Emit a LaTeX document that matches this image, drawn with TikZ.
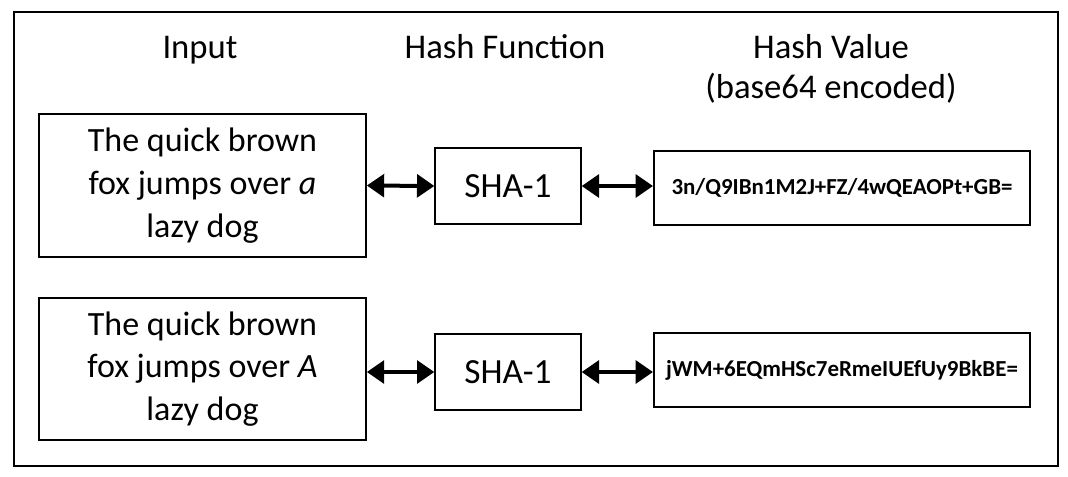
\documentclass[tikz,border=0pt]{standalone}
\usepackage{fontspec}
\setmainfont{Carlito}
\usetikzlibrary{arrows.meta}
\begin{document}
\begin{tikzpicture}[x=0.75pt,y=-0.75pt,
  box/.style={draw=black,line width=1.5pt,inner sep=0pt,align=center},
  title/.style={font=\fontsize{26}{30}\selectfont,align=center,inner sep=0pt,anchor=base},
  intext/.style={box,minimum width=245pt,minimum height=107pt,font=\fontsize{25.5}{32}\selectfont},
  fnbox/.style={box,minimum width=109pt,minimum height=57pt,font=\fontsize{26.5}{30}\selectfont},
  hashbox/.style={box,minimum width=282pt,minimum height=55pt,font=\bfseries\fontsize{17.2}{20}\selectfont},
  link/.style={line width=3pt,{Triangle[length=13pt,width=17pt]}-{Triangle[length=13pt,width=17pt]}}]
\useasboundingbox (0,0) rectangle (1068,476);
\draw[line width=1.6pt] (14,12) rectangle (1058,466);
\node[title] (t1) at (200,58) {Input};
\node[title] (t2) at (505,58) {Hash Function};
\node[title] (t3) at (831,58) {Hash Value};
\node[title] (t4) at (831,98) {(base64 encoded)};
\node[intext] (in1) at (202.5,185.5) {The quick brown\\fox jumps over \textit{a}\\lazy dog};
\node[intext] (in2) at (202.5,369) {The quick brown\\fox jumps over \textit{A}\\lazy dog};
\node[fnbox] (f1) at (508,186) {SHA-1};
\node[fnbox] (f2) at (508,372) {SHA-1};
\node[hashbox] (h1) at (842,188) {3n/Q9IBn1M2J+FZ/4wQEAOPt+GB=};
\node[hashbox] (h2) at (842,370) {jWM+6EQmHSc7eRmeIUEfUy9BkBE=};
\draw[link] (in1.east) -- (f1.west);
\draw[link] (f1.east) -- (h1.west |- f1.east);
\draw[link] (in2.east |- f2.west) -- (f2.west);
\draw[link] (f2.east) -- (h2.west |- f2.east);
\end{tikzpicture}
\end{document}
